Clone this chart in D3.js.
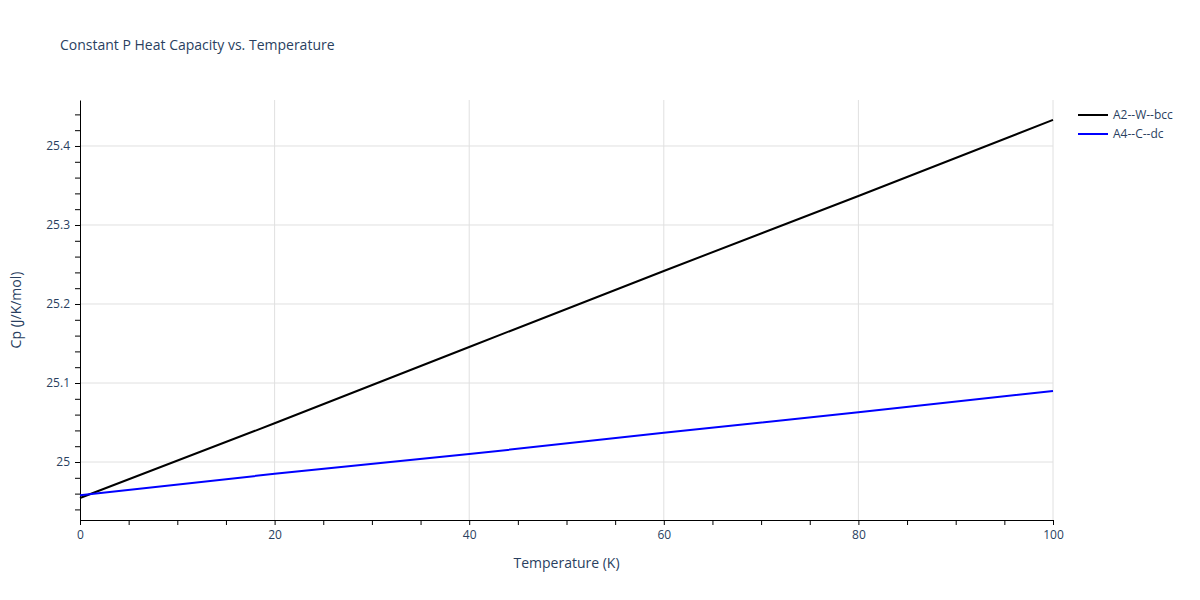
<!DOCTYPE html>
<html><head><meta charset="utf-8">
<script src="https://cdn.jsdelivr.net/npm/d3@7"></script>
<style>body{margin:0;background:#fff;font-family:"Open Sans",sans-serif}</style>
</head><body><svg id="chart" width="1200" height="600"></svg>
<script>
const temps = [0, 20, 40, 60, 80, 100];
const cpW = [24.9544, 25.049, 25.1456, 25.2418, 25.3367, 25.433];
const cpC = [24.958, 24.985, 25.010, 25.037, 25.063, 25.090];
const series = [
  { name: "A2--W--bcc", values: cpW, color: "#000000" },
  { name: "A4--C--dc", values: cpC, color: "#0000ff" },
];
const xTicks = [0, 20, 40, 60, 80, 100];
const yTicks = [25, 25.1, 25.2, 25.3, 25.4];

const M = { left: 80, right: 147, top: 100, bottom: 80 };
const W = 1200, H = 600;
const svg = d3.select("#chart");
const x = d3.scaleLinear().domain([0, 100]).range([M.left, W - M.right]);
const y = d3.scaleLinear().domain([24.9266, 25.4582]).range([H - M.bottom, M.top]);
const txt = "#2a3f5f";

svg.append("text").attr("x", 60).attr("y", 50).attr("font-size", 14).attr("fill", txt)
  .text("Constant P Heat Capacity vs. Temperature");

const grid = svg.append("g").attr("stroke", "#e0e0e0");
grid.selectAll(".gx").data(xTicks.slice(1)).join("line")
  .attr("x1", x).attr("x2", x).attr("y1", M.top).attr("y2", H - M.bottom);
grid.selectAll(".gy").data(yTicks).join("line")
  .attr("y1", y).attr("y2", y).attr("x1", M.left).attr("x2", W - M.right);

const xAxis = svg.append("g").attr("transform", `translate(0,${H - M.bottom})`)
  .call(d3.axisBottom(x).tickValues(xTicks).tickSize(0).tickPadding(10));
svg.append("g").attr("transform", `translate(0,${H - M.bottom})`)
  .call(d3.axisBottom(x).tickValues(d3.range(0, 101, 5)).tickSize(5).tickFormat(""))
  .call(g => g.select(".domain").remove());
const yAxis = svg.append("g").attr("transform", `translate(${M.left},0)`)
  .call(d3.axisLeft(y).tickValues(yTicks).tickSize(0).tickPadding(10).tickFormat(d => d3.format("~g")(d)));
svg.append("g").attr("transform", `translate(${M.left},0)`)
  .call(d3.axisLeft(y).tickValues(d3.range(24.94, 25.45, 0.02)).tickSize(5).tickFormat(""))
  .call(g => g.select(".domain").remove());
[xAxis, yAxis].forEach(a => {
  a.selectAll("text").attr("font-size", 12).attr("fill", txt).attr("font-family", "Open Sans");
  a.select(".domain").attr("stroke", "#000");
});

svg.append("text").attr("x", (M.left + W - M.right) / 2).attr("y", 568).attr("text-anchor", "middle")
  .attr("font-size", 14).attr("fill", txt).text("Temperature (K)");
svg.append("text").attr("transform", `translate(21,${(M.top + H - M.bottom) / 2}) rotate(-90)`)
  .attr("text-anchor", "middle").attr("font-size", 14).attr("fill", txt).text("Cp (J/K/mol)");

const line = d3.line().x((d, i) => x(temps[i])).y(d => y(d));
svg.selectAll(".s").data(series).join("path")
  .attr("d", d => line(d.values)).attr("fill", "none")
  .attr("stroke", d => d.color).attr("stroke-width", 2);

const leg = svg.selectAll(".leg").data(series).join("g")
  .attr("transform", (d, i) => `translate(1078,${115 + i * 19})`);
leg.append("line").attr("x1", 0).attr("x2", 30).attr("stroke", d => d.color).attr("stroke-width", 2);
leg.append("text").attr("x", 35).attr("y", 4).attr("font-size", 12).attr("fill", txt).text(d => d.name);
</script></body></html>
